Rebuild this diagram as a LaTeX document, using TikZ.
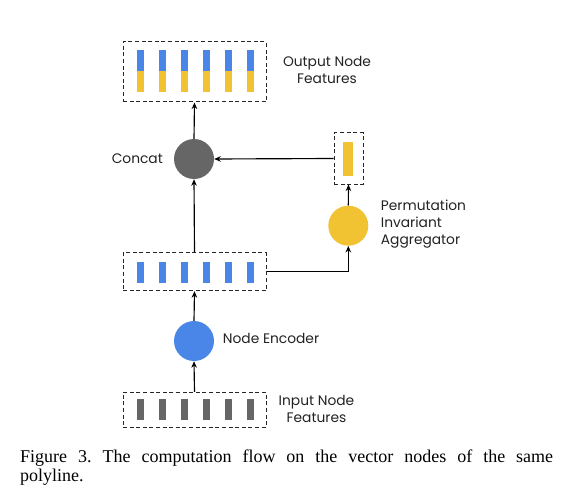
\documentclass[tikz,border=0pt]{standalone}
\usepackage{fontspec}
\setmainfont{Liberation Serif}
\newfontfamily\labelfont{Poppins}
\usetikzlibrary{arrows.meta}
\definecolor{gblue}{HTML}{4A86E8}
\definecolor{gyellow}{HTML}{F1C232}
\definecolor{ggray}{HTML}{666666}
\definecolor{txt}{HTML}{222222}
\begin{document}
\begin{tikzpicture}[x=1pt,y=-1pt,
  dbox/.style={draw=black!85,line width=1pt,dash pattern=on 4pt off 2.6pt,inner sep=0pt},
  bar/.style={inner sep=0pt,minimum width=7pt,draw=none},
  blob/.style={circle,inner sep=0pt,minimum size=40pt,draw=none},
  lbl/.style={font=\labelfont\fontsize{13.8}{17}\selectfont,text=txt,inner sep=0pt},
  conn/.style={line width=1.15pt,-{Stealth[length=6.5pt,width=5.5pt]}}]
\useasboundingbox (0,0) rectangle (573,500);
% boxes
\node[dbox,minimum width=143pt,minimum height=60pt] (out) at (194.5,72) {};
\node[dbox,minimum width=143pt,minimum height=38pt] (mid) at (194.5,271.7) {};
\node[dbox,minimum width=143pt,minimum height=35pt] (inp) at (194.5,409.8) {};
\node[dbox,minimum width=29pt,minimum height=51pt] (small) at (348.5,158.5) {};
% bars
\foreach \i in {0,...,5}{
  \node[bar,fill=gblue,minimum height=21pt] (ob\i) at (140.3+22*\i,60.5) {};
  \node[bar,fill=gyellow,minimum height=21pt] (oy\i) at (140.3+22*\i,81.5) {};
  \node[bar,fill=gblue,minimum height=21pt] (mb\i) at (140.3+22*\i,272.2) {};
  \node[bar,fill=ggray,minimum height=21pt] (ib\i) at (140.3+22*\i,409.5) {};
}
\node[bar,fill=gyellow,minimum width=10pt,minimum height=34.5pt] (sy) at (347.7,158.8) {};
% circles
\node[blob,fill=ggray] (concat) at (194,159) {};
\node[blob,fill=gblue] (enc) at (194,341) {};
\node[blob,fill=gyellow] (agg) at (348.3,225.7) {};
% labels
\node[lbl,align=center] (lout) at (327,70) {Output Node\\Features};
\node[lbl] (lconcat) at (137.3,159) {Concat};
\node[lbl,align=left,anchor=west] (lagg) at (380.7,224.5) {Permutation\\Invariant\\Aggregator};
\node[lbl,anchor=west] (lenc) at (222.7,338) {Node Encoder};
\node[lbl,align=center] (linp) at (316.5,409) {Input Node\\Features};
% connectors
\draw[conn] (inp.north) -- (enc.south);
\draw[conn] (enc.north) -- (mid.south);
\draw[conn] (mid.north) -- (concat.south);
\draw[conn] (concat.north) -- (out.south);
\draw[conn] (mid.east) -| (agg.south);
\draw[conn] (agg.north) -- (small.south);
\draw[conn] (small.west) -- (concat.east);
% caption
\node[anchor=north west,text width=533pt,align=justify,inner sep=0pt,font=\fontsize{18}{19}\selectfont\frenchspacing] (cap) at (20,449.5) {Figure 3. The computation flow on the vector nodes of the same\linebreak polyline.};
\end{tikzpicture}
\end{document}
